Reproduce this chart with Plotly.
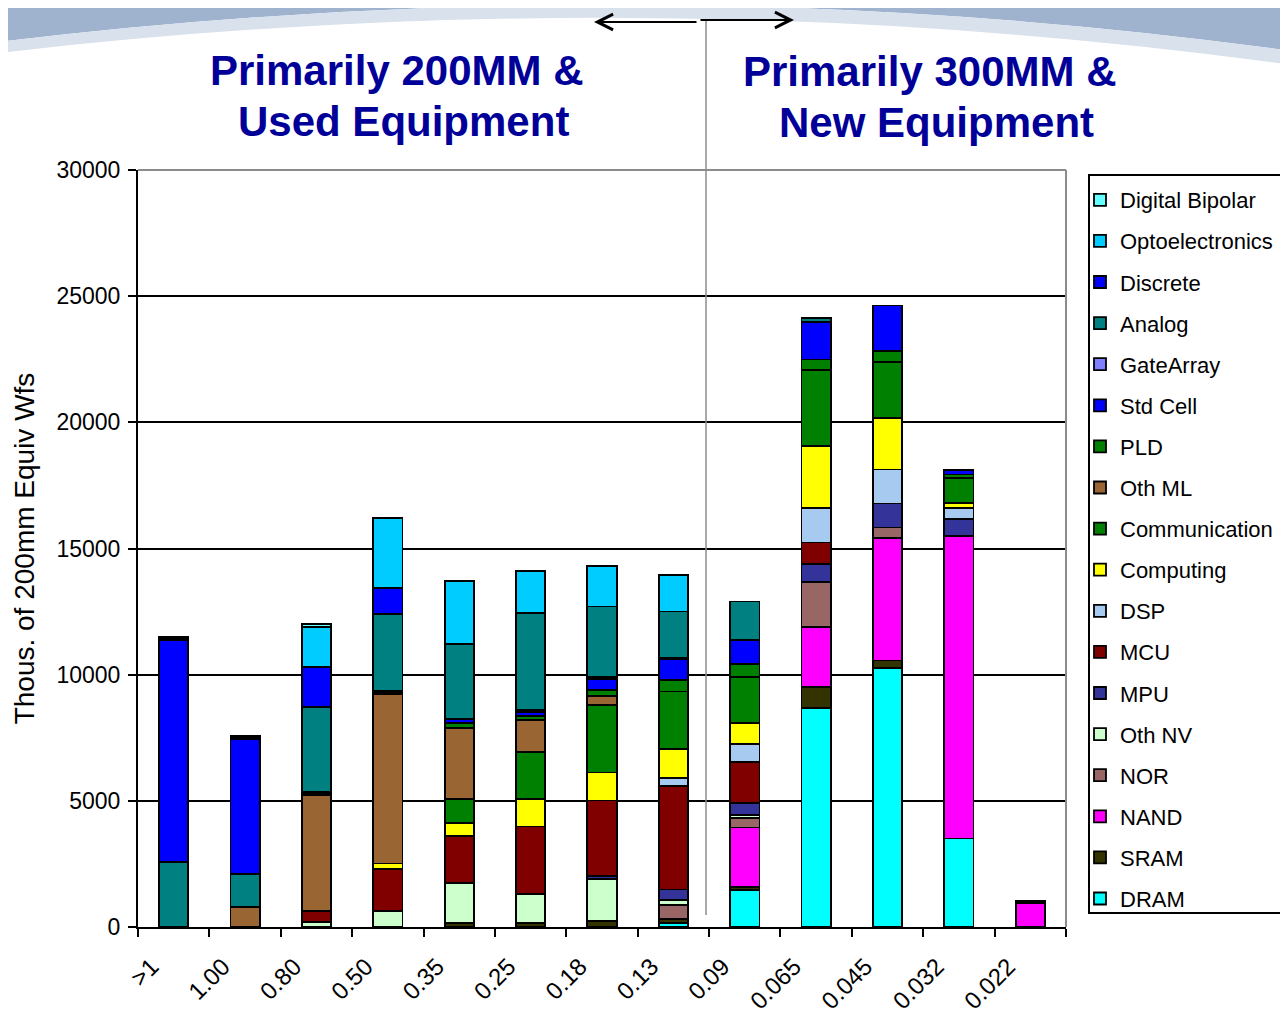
import plotly.graph_objects as go

# The page adds an 8px body margin, so the figure is drawn 8px smaller
OFF = 8
W, H = 1288 - OFF, 1018 - OFF
L, R, T, B = 138, 1066, 170, 927  # plot area in reference pixels


def px(x):
    return (x - L) / (R - L)


def py(y):
    return (B - y) / (B - T)


categories = [">1", "1.00", "0.80", "0.50", "0.35", "0.25", "0.18",
              "0.13", "0.09", "0.065", "0.045", "0.032", "0.022"]

DRAM = [0, 0, 0, 0, 0, 0, 0, 150, 1470, 8670, 10270, 3510, 0]
SRAM = [0, 0, 0, 0, 150, 170, 250, 180, 130, 850, 290, 0, 0]
NAND = [0, 0, 0, 0, 0, 0, 0, 0, 2340, 2380, 4850, 11970, 940]
NOR = [0, 0, 0, 0, 0, 0, 0, 540, 390, 1780, 420, 0, 0]
OTH_NV = [0, 0, 210, 630, 1580, 1140, 1640, 200, 100, 0, 0, 0, 0]
MPU = [0, 0, 0, 0, 0, 0, 130, 420, 490, 700, 950, 700, 100]
MCU = [0, 0, 440, 1660, 1890, 2670, 2990, 4100, 1630, 860, 0, 0, 0]
DSP = [0, 0, 0, 0, 0, 0, 0, 330, 700, 1360, 1350, 410, 0]
COMPUTING = [0, 0, 0, 230, 510, 1080, 1110, 1120, 840, 2450, 2040, 210, 0]
COMMUNICATION = [0, 0, 0, 0, 930, 1890, 2680, 2290, 1810, 3010, 2230, 980, 0]
OTH_ML = [0, 800, 4580, 6710, 2840, 1250, 350, 0, 0, 0, 0, 0, 0]
PLD = [0, 0, 60, 70, 200, 160, 240, 460, 530, 430, 420, 150, 0]
STD_CELL = [0, 0, 50, 70, 140, 170, 430, 820, 930, 1480, 1810, 190, 0]
GATE_ARRAY = [0, 0, 0, 0, 0, 80, 80, 50, 0, 0, 0, 0, 0]
ANALOG = [2590, 1300, 3390, 3040, 2960, 3820, 2800, 1840, 1540, 150, 0, 0, 0]
DISCRETE = [8790, 5350, 1560, 1040, 0, 0, 0, 0, 0, 0, 0, 0, 0]
OPTO = [80, 80, 1610, 2750, 2510, 1690, 1620, 1450, 0, 0, 0, 0, 0]
DIGITAL_BIPOLAR = [50, 50, 110, 0, 0, 0, 0, 0, 0, 0, 0, 0, 0]

series = [
    ("DRAM", DRAM, "#00FFFF"),
    ("SRAM", SRAM, "#333300"),
    ("NAND", NAND, "#FF00FF"),
    ("NOR", NOR, "#996666"),
    ("Oth NV", OTH_NV, "#CCFFCC"),
    ("MPU", MPU, "#333399"),
    ("MCU", MCU, "#800000"),
    ("DSP", DSP, "#A6CAF0"),
    ("Computing", COMPUTING, "#FFFF00"),
    ("Communication", COMMUNICATION, "#008000"),
    ("Oth ML", OTH_ML, "#996633"),
    ("PLD", PLD, "#008000"),
    ("Std Cell", STD_CELL, "#0000FF"),
    ("GateArray", GATE_ARRAY, "#8080FF"),
    ("Analog", ANALOG, "#008080"),
    ("Discrete", DISCRETE, "#0000FF"),
    ("Optoelectronics", OPTO, "#00CCFF"),
    ("Digital Bipolar", DIGITAL_BIPOLAR, "#66FFFF"),
]

FONT = "Liberation Sans, Arial, sans-serif"

fig = go.Figure()
for i, (name, vals, color) in enumerate(series):
    fig.add_trace(go.Bar(
        name=name, x=categories, y=vals, legendgroup=name,
        legendrank=1000 - i,
        marker=dict(color=color, line=dict(color="black", width=1.8)),
    ))


def pp(x, y):
    return f"{px(x):.5f},{py(y):.5f}"


shapes = []
# top decorative banner
banner = (f"M {pp(-10, -10)} L {pp(1300, -10)} L {pp(1300, 52)} "
          f"Q {pp(650, -38)} {pp(-10, 43)} Z")
shapes.append(dict(type="path", xref="paper", yref="paper", path=banner,
                   fillcolor="#9FB3CF", line=dict(width=0), layer="below"))
banner2 = (f"M {pp(-10, 43)} Q {pp(650, -38)} {pp(1300, 52)} L {pp(1300, 66)} "
           f"Q {pp(650, -24)} {pp(-10, 54)} Z")
shapes.append(dict(type="path", xref="paper", yref="paper", path=banner2,
                   fillcolor="#D9E1EC", line=dict(width=0), layer="below"))
# plot area grey border (top & right)
shapes.append(dict(type="line", xref="paper", yref="paper", x0=0, x1=1, y0=1, y1=1,
                   line=dict(color="#8C8C8C", width=2)))
shapes.append(dict(type="line", xref="paper", yref="paper", x0=1, x1=1, y0=0, y1=1,
                   line=dict(color="#8C8C8C", width=2)))
# divider line
shapes.append(dict(type="line", xref="paper", yref="paper",
                   x0=px(706), x1=px(706), y0=py(915), y1=py(20),
                   line=dict(color="#8C8C8C", width=1.5)))
# legend frame (runs off the right edge, as in the reference)
shapes.append(dict(type="rect", xref="paper", yref="paper", layer="above",
                   x0=px(1089), x1=px(1310), y0=py(913), y1=py(175),
                   fillcolor="white", line=dict(color="black", width=2)))

title_font = dict(family=FONT, size=42, color="#000099")
annotations = [
    dict(text="<b>Primarily 200MM &</b>", x=px(397), y=py(70)),
    dict(text="<b>Used Equipment</b>", x=px(403), y=py(121)),
    dict(text="<b>Primarily 300MM &</b>", x=px(930), y=py(72)),
    dict(text="<b>New Equipment</b>", x=px(936), y=py(123)),
]
for a in annotations:
    a.update(xref="paper", yref="paper", showarrow=False, font=title_font,
             xanchor="center", yanchor="middle")

# double arrow
annotations.append(dict(xref="paper", yref="paper", x=px(594), y=py(22), ax=104, ay=0,
                        text="", showarrow=True, arrowhead=5, arrowsize=1.4,
                        arrowwidth=2.2, arrowcolor="black"))
annotations.append(dict(xref="paper", yref="paper", x=px(794), y=py(20), ax=-95, ay=0,
                        text="", showarrow=True, arrowhead=5, arrowsize=1.4,
                        arrowwidth=2.2, arrowcolor="black"))

fig.update_layout(
    barmode="stack",
    bargap=0.59,
    width=W, height=H,
    margin=dict(l=L - OFF, r=(1288 - R), t=T - OFF, b=(1018 - B), autoexpand=False),
    paper_bgcolor="white",
    plot_bgcolor="white",
    font=dict(family=FONT, size=22, color="black"),
    shapes=shapes,
    annotations=annotations,
    legend=dict(
        x=px(1089), y=py(179), xanchor="left", yanchor="top",
        traceorder="grouped", tracegroupgap=9.5,
        borderwidth=0, bgcolor="rgba(0,0,0,0)",
        font=dict(family=FONT, size=22, color="black"),
        itemwidth=30, indentation=-9,
    ),
    xaxis=dict(
        type="category", range=[-0.5, 12.5], tickson="boundaries",
        ticks="outside", ticklen=8, tickwidth=1.5, tickcolor="black",
        showline=True, linecolor="black", linewidth=2,
        tickangle=-45, showgrid=False,
        ticklabelshift=-22, ticklabelstandoff=14,
        tickfont=dict(family=FONT, size=24),
    ),
    yaxis=dict(
        range=[0, 30000], dtick=5000, tickformat="d",
        ticks="outside", ticklen=8, tickwidth=1.5, tickcolor="black",
        showline=True, linecolor="black", linewidth=2,
        showgrid=True, gridcolor="black", gridwidth=1.8,
        zeroline=False, ticklabelstandoff=3,
        tickfont=dict(family=FONT, size=23),
        title=dict(text="Thous. of 200mm Equiv Wfs",
                   font=dict(family=FONT, size=28), standoff=14),
    ),
)

fig.write_html("out.html")
